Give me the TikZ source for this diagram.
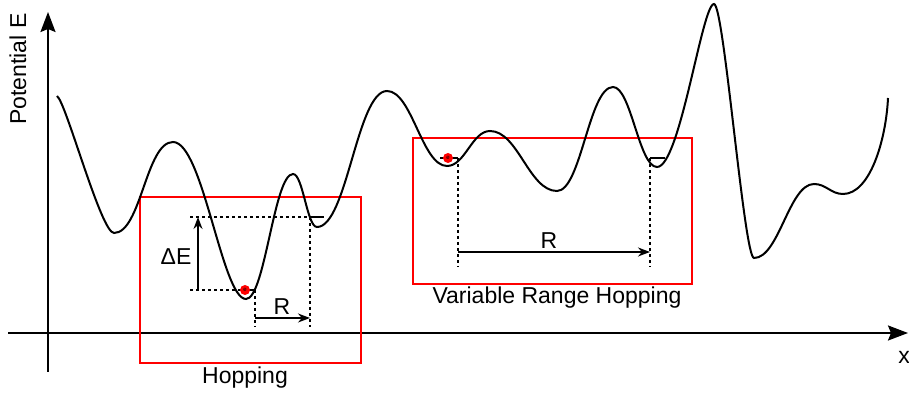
\documentclass[tikz,border=0pt]{standalone}
\usepackage{fontspec}
\setmainfont{Liberation Sans}
\usetikzlibrary{arrows.meta}
\begin{document}
\begin{tikzpicture}[x=0.5pt, y=-0.5pt, every node/.style={font=\fontsize{11.5}{13}\selectfont}]
  \tikzstyle{axis}=[line width=1pt,-{Stealth[length=10pt,width=7.5pt,inset=1.5pt]}]
  \tikzstyle{regionbox}=[draw=red,line width=1pt,minimum width=#1,inner sep=0pt]
  \tikzstyle{dotline}=[line width=0.75pt,dash pattern=on 1.5pt off 1.5pt]
  \tikzstyle{distarrow}=[line width=0.75pt,-{Stealth[length=6pt,width=4.5pt]}]
  \tikzstyle{electron}=[circle,fill=red,inner sep=0pt,minimum size=5pt,font=\fontsize{3}{3}\selectfont]
  \useasboundingbox (0,0) rectangle (909,394);
  % axes
  \coordinate (xa) at (8,333);
  \coordinate (xb) at (908,333);
  \coordinate (ya) at (48,372);
  \coordinate (yb) at (48,12);
  \draw[axis] (xa) -- (xb);
  \draw[axis] (ya) -- (yb);
  \node[rotate=90] (ylab) at (18,69) {Potential E};
  \node (xlab) at (904,357) {x};
  % boxes
  \node[regionbox=110.5pt,minimum height=83pt] (hopbox) at (250.5,280) {};
  \node[regionbox=139.5pt,minimum height=73pt] (vrhbox) at (552.5,211) {};
  \node (hoplab) at (245,378) {Hopping};
  \node (vrhlab) at (557,298) {Variable Range Hopping};
  % potential
  \draw[line width=1pt] (57,96) .. controls (66,102) and (101,233) .. (114,233)
    .. controls (141,233) and (146,142) .. (173,142)
    .. controls (203,142) and (222,299) .. (246,299)
    .. controls (265,299) and (274,174) .. (293,174)
    .. controls (303,174) and (307,227) .. (317,227)
    .. controls (347,227) and (357,91) .. (387,91)
    .. controls (412,91) and (422,166) .. (447,166)
    .. controls (465,166) and (472,131) .. (490,131)
    .. controls (518,131) and (529,191) .. (557,191)
    .. controls (581,191) and (589,87) .. (613,87)
    .. controls (631,87) and (639,167) .. (657,167)
    .. controls (680,167) and (702,4) .. (714,4)
    .. controls (724,4) and (744,258) .. (754,258)
    .. controls (779,258) and (789,184) .. (814,184)
    .. controls (826,184) and (831,194) .. (843,194)
    .. controls (870,194) and (886,140) .. (888,98);
  % hopping
  \coordinate (hl) at (190,290);
  \coordinate (hw1) at (241,290);
  \coordinate (hw2) at (255,290);
  \coordinate (ht) at (190,217);
  \coordinate (hn1) at (310,217);
  \coordinate (hn2) at (324,217);
  \coordinate (hb1) at (255,327);
  \coordinate (hb2) at (310,327);
  \coordinate (de1) at (198,290);
  \coordinate (de2) at (198,217);
  \coordinate (hr1) at (255,318);
  \coordinate (hr2) at (310,318);
  \draw[dotline] (hl) -- (hw1);
  \draw[dotline] (ht) -- (hn1);
  \draw[dotline] (hw2) -- (hb1);
  \draw[dotline] (hn1) -- (hb2);
  \draw[line width=0.75pt] (hw1) -- (hw2);
  \draw[line width=0.75pt] (hn1) -- (hn2);
  \draw[distarrow] (de1) -- (de2);
  \draw[distarrow] (hr1) -- (hr2);
  \node (dE) at (176,257) {ΔE};
  \node (hR) at (282,307) {R};
  \node[electron] (e1) at (245,290) {e};
  % variable range hopping
  \coordinate (vw1) at (440,158);
  \coordinate (vw2) at (458,158);
  \coordinate (vn1) at (650,158);
  \coordinate (vn2) at (665,158);
  \coordinate (vb1) at (458,267);
  \coordinate (vb2) at (650,267);
  \coordinate (vr1) at (458,252);
  \coordinate (vr2) at (650,252);
  \draw[line width=0.75pt] (vw1) -- (vw2);
  \draw[line width=0.75pt] (vn1) -- (vn2);
  \draw[dotline] (vw2) -- (vb1);
  \draw[dotline] (vn1) -- (vb2);
  \draw[distarrow] (vr1) -- (vr2);
  \node (vR) at (549,241) {R};
  \node[electron] (e2) at (448,158) {e};
\end{tikzpicture}
\end{document}
